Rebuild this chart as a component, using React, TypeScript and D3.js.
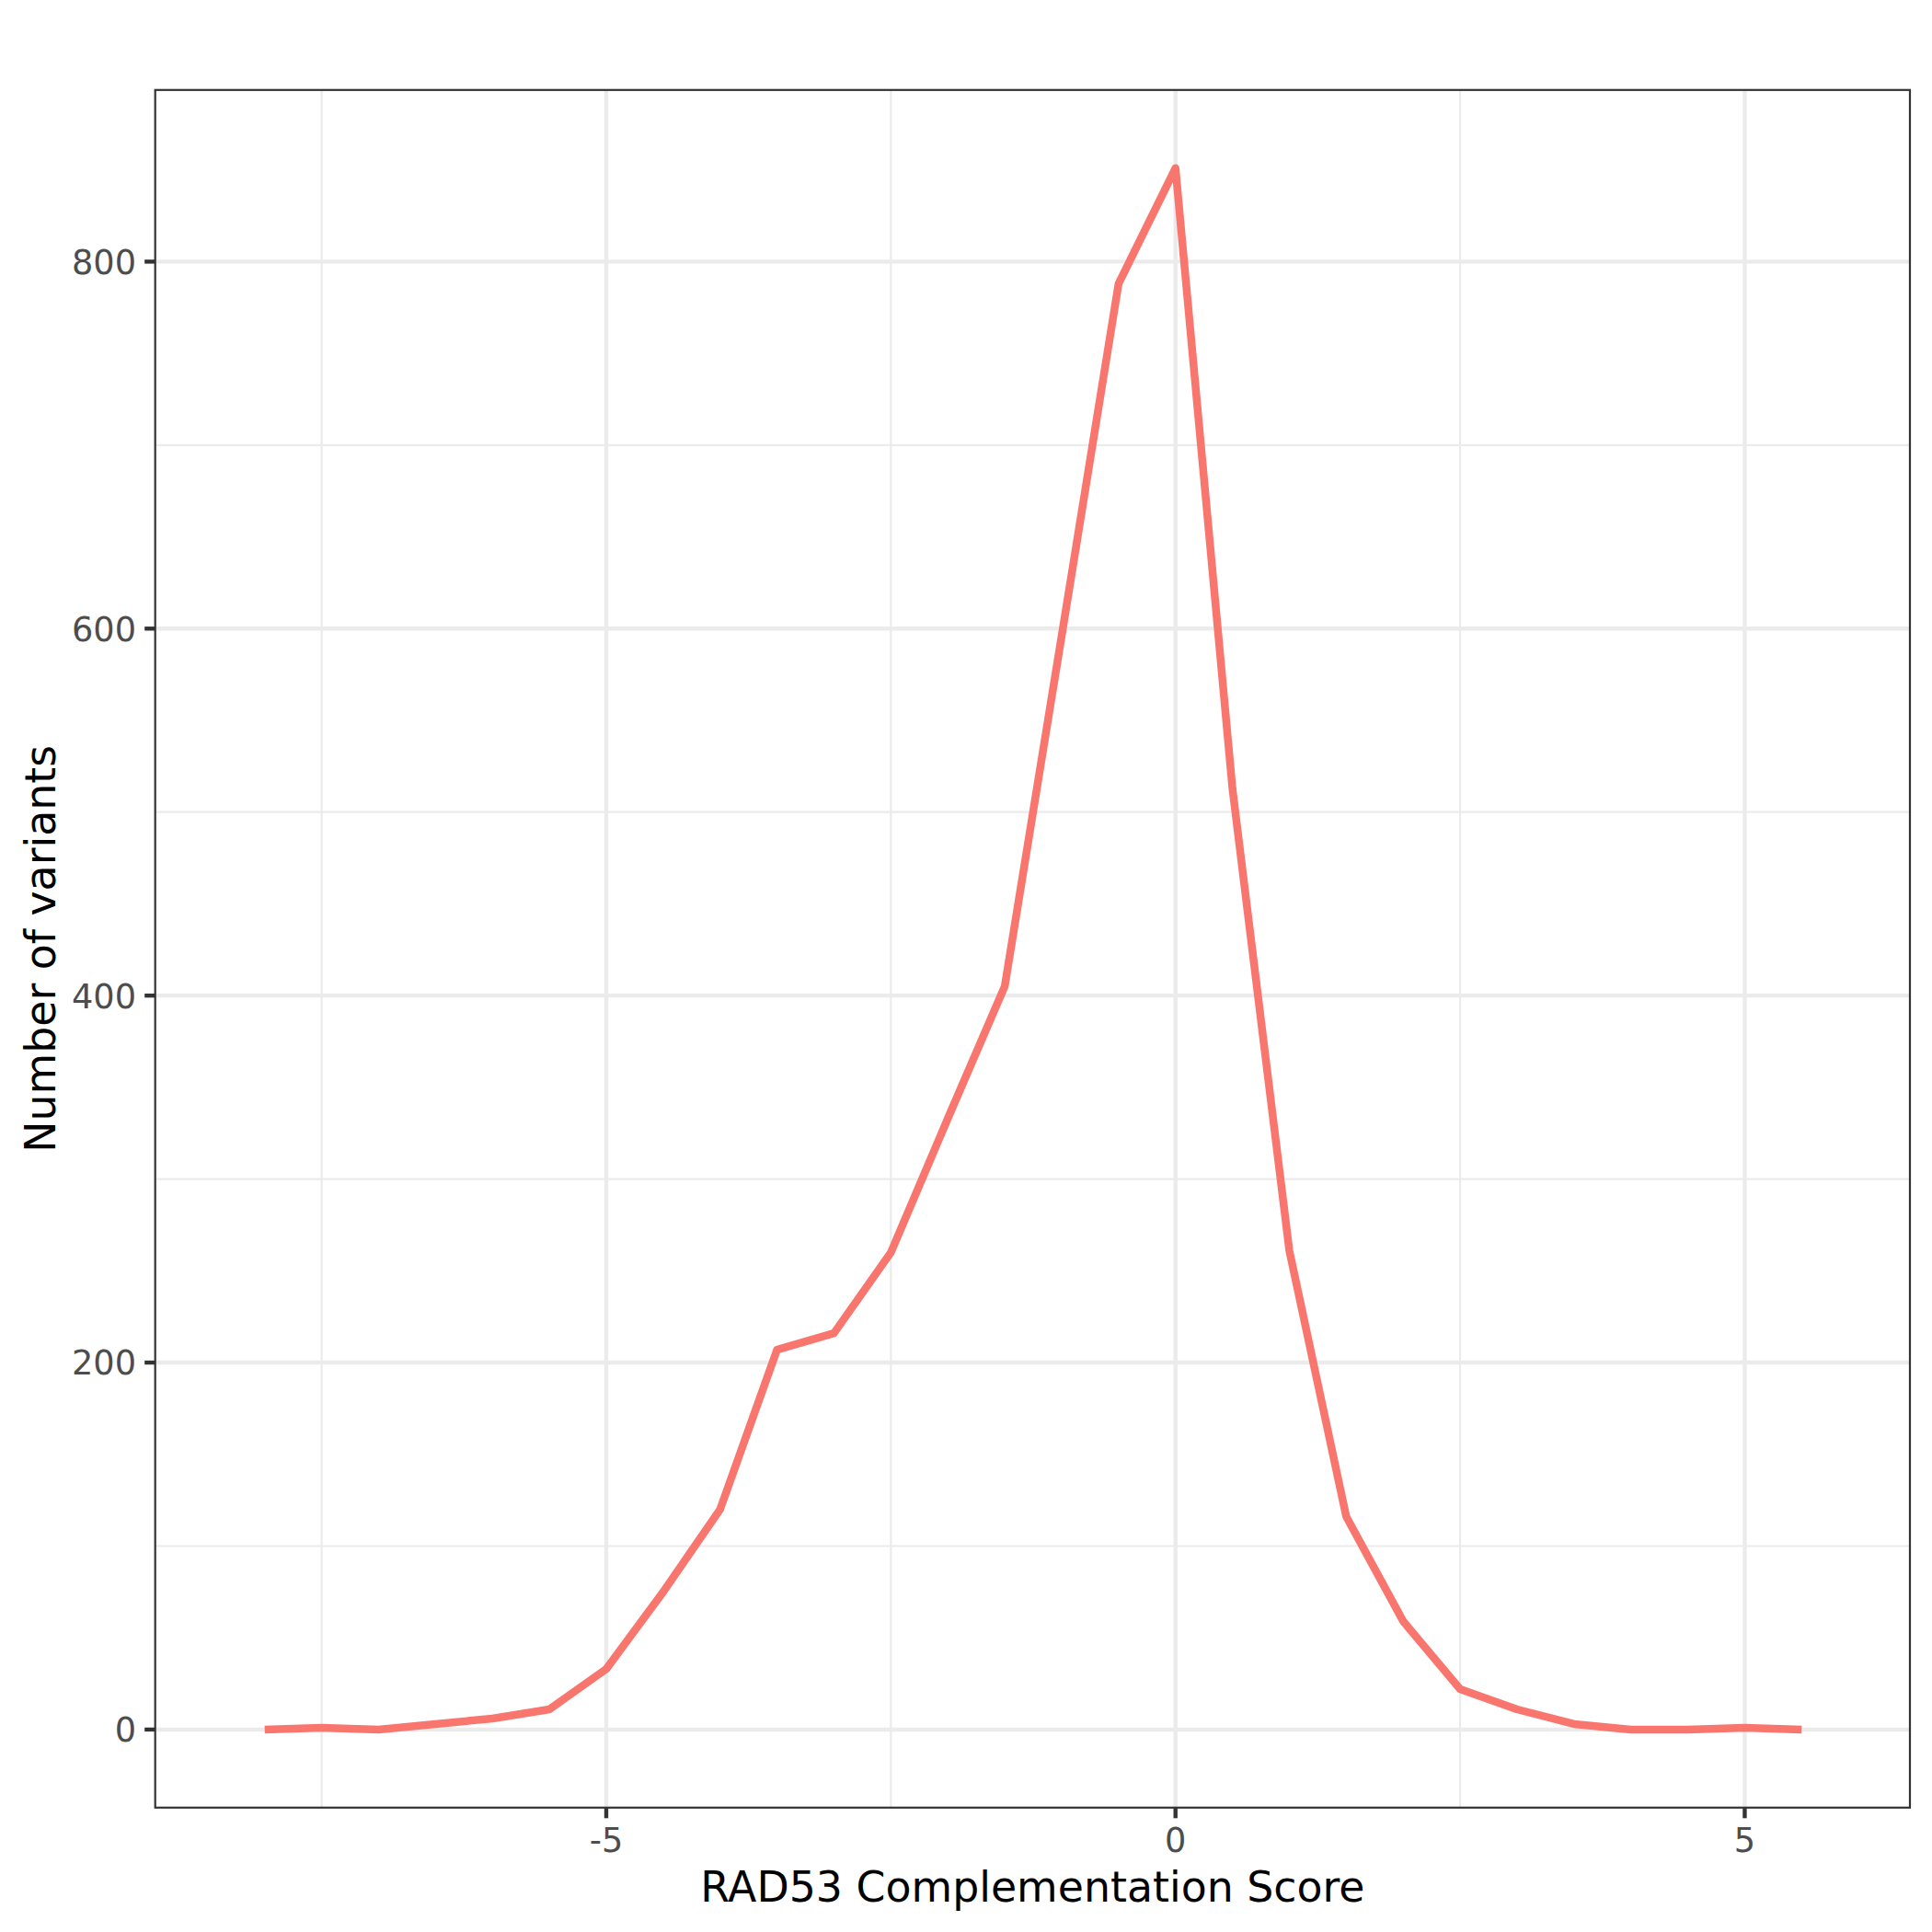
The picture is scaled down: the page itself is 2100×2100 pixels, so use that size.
import React from 'react';
import * as d3 from 'd3';

// frequency polygon, bin centres every 0.5
const scoreBins: number[] = [
  -8, -7.5, -7, -6.5, -6, -5.5, -5, -4.5, -4, -3.5, -3, -2.5, -2, -1.5,
  -1, -0.5, 0, 0.5, 1, 1.5, 2, 2.5, 3, 3.5, 4, 4.5, 5, 5.5,
];
const variantCounts: number[] = [
  0, 1, 0, 3, 6, 11, 33, 75, 120, 207, 216, 260, 333, 405,
  596, 788, 851, 513, 261, 116, 59, 22, 11, 3, 0, 0, 1, 0,
];
const xMajorTicks = [-5, 0, 5];
const xMinorTicks = [-7.5, -2.5, 2.5];
const yMajorTicks = [0, 200, 400, 600, 800];
const yMinorTicks = [100, 300, 500, 700];

const W = 2100;
const H = 2100;
const panel = { left: 168.7, right: 2076, top: 97.8, bottom: 1964.8 };

const FONT = '"DejaVu Sans", Verdana, sans-serif';
const LINE_COLOR = '#F8766D';
const GRID = '#EBEBEB';
const DARK = '#333333';

export default function App() {
  // ggplot-style 5% expansion
  const yMax = d3.max(variantCounts) ?? 0;
  const yPad = yMax * 0.05;
  const x = d3.scaleLinear().domain([-8.962, 6.451]).range([panel.left, panel.right]);
  const y = d3.scaleLinear().domain([-yPad, yMax + yPad]).range([panel.bottom, panel.top]);

  const pts: [number, number][] = scoreBins.map((b, i) => [b, variantCounts[i]]);
  const path = d3.line<[number, number]>()
    .x(d => x(d[0]))
    .y(d => y(d[1]))(pts) || '';

  const tickLen = 11.5;
  const tickFont = 36.7;
  const titleFont = 45.8;

  return (
    <svg
      width={W}
      height={H}
      style={{ position: 'absolute', left: 0, top: 0, background: '#fff' }}
      fontFamily={FONT}
    >
      <rect x={0} y={0} width={W} height={H} fill="#fff" />
      <defs>
        <clipPath id="panel-clip">
          <rect x={panel.left} y={panel.top} width={panel.right - panel.left} height={panel.bottom - panel.top} />
        </clipPath>
      </defs>

      <g clipPath="url(#panel-clip)">
        {/* minor grid */}
        {yMinorTicks.map(t => (
          <line key={'ym' + t} x1={panel.left} x2={panel.right} y1={y(t)} y2={y(t)} stroke={GRID} strokeWidth={2.2} />
        ))}
        {xMinorTicks.map(t => (
          <line key={'xm' + t} x1={x(t)} x2={x(t)} y1={panel.top} y2={panel.bottom} stroke={GRID} strokeWidth={2.2} />
        ))}
        {/* major grid */}
        {yMajorTicks.map(t => (
          <line key={'yM' + t} x1={panel.left} x2={panel.right} y1={y(t)} y2={y(t)} stroke={GRID} strokeWidth={4.4} />
        ))}
        {xMajorTicks.map(t => (
          <line key={'xM' + t} x1={x(t)} x2={x(t)} y1={panel.top} y2={panel.bottom} stroke={GRID} strokeWidth={4.4} />
        ))}

        <path d={path} fill="none" stroke={LINE_COLOR} strokeWidth={8.5} strokeLinejoin="round" strokeLinecap="butt" />
      </g>

      {/* panel border */}
      <rect
        x={panel.left}
        y={panel.top}
        width={panel.right - panel.left}
        height={panel.bottom - panel.top}
        fill="none"
        stroke={DARK}
        strokeWidth={2.2}
      />

      {/* y axis */}
      {yMajorTicks.map(t => (
        <g key={'yt' + t}>
          <line x1={panel.left - tickLen} x2={panel.left} y1={y(t)} y2={y(t)} stroke={DARK} strokeWidth={4.4} />
          <text x={panel.left - tickLen - 9.2} y={y(t) + 13.4} textAnchor="end" fontSize={tickFont} fill="#4D4D4D">
            {t}
          </text>
        </g>
      ))}

      {/* x axis */}
      {xMajorTicks.map(t => (
        <g key={'xt' + t}>
          <line x1={x(t)} x2={x(t)} y1={panel.bottom} y2={panel.bottom + tickLen} stroke={DARK} strokeWidth={4.4} />
          <text x={x(t)} y={2013} textAnchor="middle" fontSize={tickFont} fill="#4D4D4D">
            {t}
          </text>
        </g>
      ))}

      <text x={(panel.left + panel.right) / 2} y={2067} textAnchor="middle" fontSize={titleFont} fill="#000">
        RAD53 Complementation Score
      </text>
      <text
        transform={`translate(60, ${(panel.top + panel.bottom) / 2}) rotate(-90)`}
        textAnchor="middle"
        fontSize={titleFont}
        fill="#000"
      >
        Number of variants
      </text>
    </svg>
  );
}
